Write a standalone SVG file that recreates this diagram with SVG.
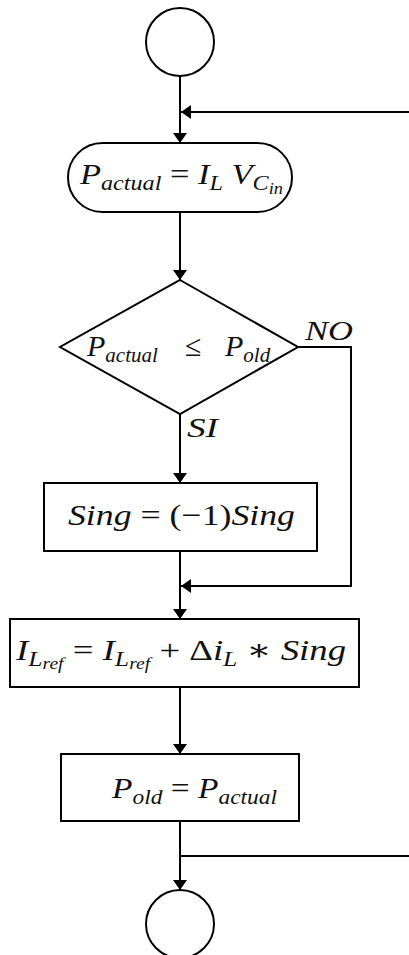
<svg xmlns="http://www.w3.org/2000/svg" width="409" height="955" viewBox="0 0 409 955">
<style>
.shape{fill:#fff;stroke:#000;stroke-width:2}
.conn{fill:none;stroke:#000;stroke-width:2}
.m{font-family:"Liberation Serif","DejaVu Serif",serif;font-style:italic;font-size:30px;fill:#111}
.u{font-style:normal}
.s{font-size:21px}
.ss{font-size:16px}
.lbl{font-family:"Liberation Serif","DejaVu Serif",serif;font-style:italic;font-size:28px;fill:#111}
</style>
<defs>
<marker id="arr" viewBox="0 0 10 14" markerWidth="10" markerHeight="14" markerUnits="userSpaceOnUse" refX="10" refY="7" orient="auto">
<path d="M0,0 L10,7 L0,14 z" fill="#000"/>
</marker>
</defs>
<g id="connectors">
<line class="conn" x1="180" y1="76" x2="180" y2="143" marker-end="url(#arr)"/>
<line class="conn" x1="409" y1="112" x2="181" y2="112" marker-end="url(#arr)"/>
<line class="conn" x1="180" y1="212" x2="180" y2="280" marker-end="url(#arr)"/>
<line class="conn" x1="180" y1="414" x2="180" y2="483" marker-end="url(#arr)"/>
<path class="conn" d="M298,347 H351 V586 H181" marker-end="url(#arr)"/>
<line class="conn" x1="180" y1="551" x2="180" y2="619" marker-end="url(#arr)"/>
<line class="conn" x1="180" y1="687" x2="180" y2="754" marker-end="url(#arr)"/>
<line class="conn" x1="180" y1="821" x2="180" y2="890" marker-end="url(#arr)"/>
<line class="conn" x1="180" y1="856" x2="409" y2="856"/>
<text class="lbl" x="305" y="340" textLength="48" lengthAdjust="spacingAndGlyphs">NO</text>
<text class="lbl" x="187" y="437" textLength="31" lengthAdjust="spacingAndGlyphs">SI</text>
</g>
<g id="start">
<circle class="shape" cx="180" cy="42" r="34"/>
</g>
<g id="power">
<rect class="shape" x="68" y="143" width="224" height="69" rx="34.5" ry="34.5"/>
<text class="m" x="80" y="184" textLength="203" lengthAdjust="spacingAndGlyphs">P<tspan class="s" dy="6">actual</tspan><tspan class="u" dy="-6"> = </tspan>I<tspan class="s" dy="6">L</tspan><tspan dy="-6"> V</tspan><tspan class="s" dy="6">C</tspan><tspan class="ss" dy="4">in</tspan></text>
</g>
<g id="decision">
<polygon class="shape" points="180,280 298,347 180,414 60,347"/>
<text class="m" x="87" y="356">P<tspan class="s" dy="6">actual</tspan><tspan class="u" x="185" dy="-6">≤</tspan><tspan x="225">P</tspan><tspan class="s" dy="6">old</tspan></text>
</g>
<g id="sign">
<rect class="shape" x="44" y="483" width="273" height="68"/>
<text class="m" x="68" y="525" textLength="227" lengthAdjust="spacingAndGlyphs">Sing<tspan class="u"> = (−1)</tspan>Sing</text>
</g>
<g id="iref">
<rect class="shape" x="10" y="619" width="349" height="68"/>
<text class="m" x="16" y="660" textLength="330" lengthAdjust="spacingAndGlyphs">I<tspan class="s" dy="6">L</tspan><tspan class="ss" dy="3">ref</tspan><tspan class="u" dy="-9"> = </tspan>I<tspan class="s" dy="6">L</tspan><tspan class="ss" dy="3">ref</tspan><tspan class="u" dy="-9"> + Δ</tspan>i<tspan class="s" dy="6">L</tspan><tspan class="u" dy="-6"> ∗ </tspan>Sing</text>
</g>
<g id="update">
<rect class="shape" x="61" y="754" width="238" height="67"/>
<text class="m" x="112" y="798" textLength="165" lengthAdjust="spacingAndGlyphs">P<tspan class="s" dy="6">old</tspan><tspan class="u" dy="-6"> = </tspan>P<tspan class="s" dy="6">actual</tspan></text>
</g>
<g id="end">
<circle class="shape" cx="180" cy="924" r="34"/>
</g>
</svg>
